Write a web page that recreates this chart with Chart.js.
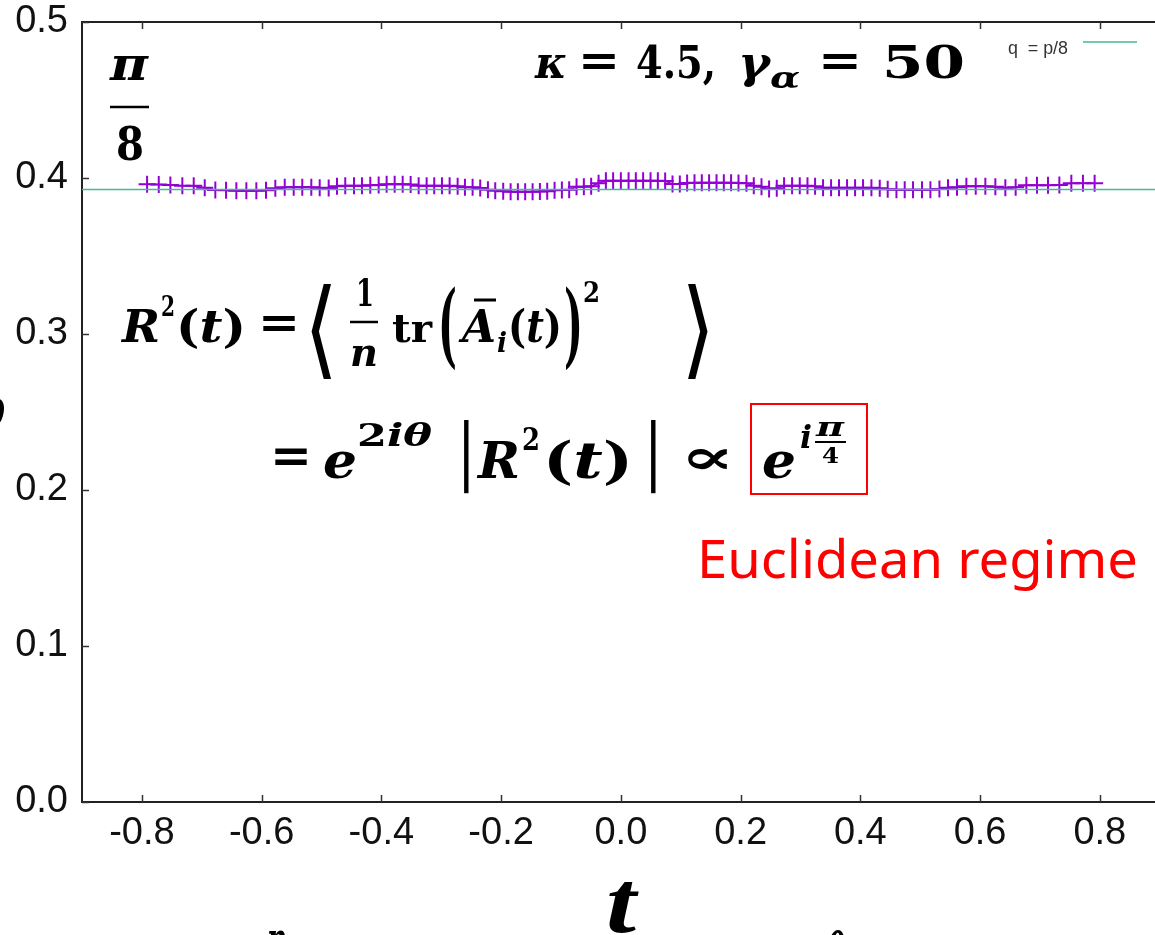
<!DOCTYPE html>
<html>
<head>
<meta charset="utf-8">
<script src="https://cdn.jsdelivr.net/npm/chart.js@4.4.1/dist/chart.umd.min.js"></script>
<style>
html,body{margin:0;padding:0;background:#fff;overflow:hidden;}
#c{display:block;}
</style>
</head>
<body>
<canvas id="c" width="1155" height="935"></canvas>
<script>
// ---- data ----
const tValues = [
-0.7913,-0.7718,-0.7524,-0.7324,-0.7134,-0.6950,-0.6773,-0.6594,-0.6422,-0.6255,
-0.6088,-0.5927,-0.5771,-0.5614,-0.5464,-0.5321,-0.5170,-0.5030,-0.4880,-0.4741,
-0.4603,-0.4457,-0.4324,-0.4185,-0.4045,-0.3912,-0.3778,-0.3644,-0.3511,-0.3377,
-0.3244,-0.3117,-0.2988,-0.2860,-0.2726,-0.2604,-0.2476,-0.2349,-0.2220,-0.2098,
-0.1965,-0.1841,-0.1720,-0.1598,-0.1474,-0.1352,-0.1230,-0.1107,-0.0985,-0.0863,
-0.0740,-0.0618,-0.0496,-0.0372,-0.0250,-0.0129,
0.0,
0.0129,0.0250,0.0372,0.0496,0.0618,0.0740,0.0863,0.0985,0.1107,0.1230,
0.1352,0.1474,0.1598,0.1720,0.1841,0.1965,0.2098,0.2220,0.2349,0.2476,
0.2604,0.2726,0.2860,0.2988,0.3117,0.3244,0.3377,0.3511,0.3644,0.3778,
0.3912,0.4045,0.4185,0.4324,0.4457,0.4603,0.4741,0.4880,0.5030,0.5170,
0.5321,0.5464,0.5614,0.5771,0.5927,0.6088,0.6255,0.6422,0.6594,0.6773,
0.6950,0.7134,0.7324,0.7524,0.7718,0.7913
];
const phaseValues = [
0.3960,0.3958,0.3955,0.3951,0.3951,0.3938,0.3923,0.3921,0.3919,0.3919,
0.3919,0.3921,0.3935,0.3940,0.3940,0.3940,0.3940,0.3938,0.3936,0.3947,
0.3951,0.3951,0.3951,0.3953,0.3955,0.3960,0.3960,0.3960,0.3958,0.3951,
0.3951,0.3951,0.3951,0.3951,0.3947,0.3940,0.3940,0.3936,0.3925,0.3919,
0.3915,0.3912,0.3912,0.3912,0.3912,0.3914,0.3915,0.3921,0.3923,0.3925,
0.3944,0.3944,0.3947,0.3966,0.3983,0.3983,
0.3983,
0.3983,0.3983,0.3983,0.3983,0.3983,0.3980,0.3962,0.3962,0.3968,0.3970,
0.3970,0.3970,0.3970,0.3970,0.3970,0.3968,0.3966,0.3950,0.3944,0.3929,
0.3935,0.3951,0.3951,0.3951,0.3951,0.3947,0.3938,0.3938,0.3938,0.3938,
0.3938,0.3938,0.3938,0.3935,0.3928,0.3925,0.3925,0.3925,0.3925,0.3925,
0.3930,0.3938,0.3940,0.3947,0.3947,0.3947,0.3944,0.3938,0.3940,0.3953,
0.3953,0.3953,0.3955,0.3966,0.3966,0.3966
];
const refLineX = [-0.9, 0.9];
const refLineY = [0.3927, 0.3927];   // q = pi/8
const refLabel = 'q  = p/8';
const xTicks = [-0.8,-0.6,-0.4,-0.2,0.0,0.2,0.4,0.6,0.8];
const yTicks = [0.0,0.1,0.2,0.3,0.4,0.5];

const PURPLE = '#9400d3';
const GREEN = '#45b89a';

const MI = (s)=>"italic bold "+s+"px 'DejaVu Serif'";
const MB = (s)=>"bold "+s+"px 'DejaVu Serif'";

// draw a run of text pieces starting at x; if targetW given, stretch horizontally to that width
function run(ctx, x, y, targetW, pieces, color){
  ctx.save();
  ctx.fillStyle = color || '#000';
  ctx.textAlign = 'left'; ctx.textBaseline = 'alphabetic';
  let total = 0;
  const ws = pieces.map(p=>{ ctx.font = p[1]; const w = ctx.measureText(p[0]).width; total += w; return w; });
  const sx = targetW ? targetW / total : 1;
  ctx.translate(x, y); ctx.scale(sx, 1);
  let cx = 0;
  pieces.forEach((p,i)=>{ ctx.font = p[1]; ctx.fillText(p[0], cx, p[2] || 0); cx += ws[i]; });
  ctx.restore();
}
function bigGlyph(ctx, s, x, w, yTop, yBot, font, color){
  ctx.save();
  ctx.font = font; ctx.fillStyle = color || '#000';
  ctx.textAlign = 'left'; ctx.textBaseline = 'alphabetic';
  const m = ctx.measureText(s);
  const asc = m.actualBoundingBoxAscent, desc = m.actualBoundingBoxDescent;
  const gw = m.actualBoundingBoxRight + m.actualBoundingBoxLeft;
  const sc = (yBot - yTop) / (asc + desc);
  const sx = w / gw;
  ctx.translate(x, yTop + asc * sc);
  ctx.scale(sx, sc);
  ctx.fillText(s, m.actualBoundingBoxLeft, 0);
  ctx.restore();
}
function hbar(ctx, x1, x2, y, w){
  ctx.save(); ctx.strokeStyle = '#000'; ctx.lineWidth = w;
  ctx.beginPath(); ctx.moveTo(x1, y); ctx.lineTo(x2, y); ctx.stroke(); ctx.restore();
}

const decorPlugin = {
  id: 'decor',
  afterDraw(chart){
    const ctx = chart.ctx, a = chart.chartArea;
    const xs = chart.scales.x, ys = chart.scales.y;
    ctx.save();
    // top border and extension of the bottom axis to the picture edge
    ctx.strokeStyle = '#222'; ctx.lineWidth = 2;
    ctx.beginPath(); ctx.moveTo(a.left, a.top); ctx.lineTo(chart.width, a.top);
    ctx.moveTo(a.right - 2, Math.round(a.bottom)); ctx.lineTo(chart.width, Math.round(a.bottom)); ctx.stroke();
    // inward ticks
    ctx.strokeStyle = '#333'; ctx.lineWidth = 1.5;
    xTicks.forEach(v=>{
      const px = Math.round(xs.getPixelForValue(v)) + 0.5;
      ctx.beginPath(); ctx.moveTo(px, a.bottom); ctx.lineTo(px, a.bottom - 7);
      ctx.moveTo(px, a.top); ctx.lineTo(px, a.top + 7); ctx.stroke();
    });
    yTicks.forEach(v=>{
      const py = Math.round(ys.getPixelForValue(v)) + 0.5;
      ctx.beginPath(); ctx.moveTo(a.left, py); ctx.lineTo(a.left + 7, py); ctx.stroke();
    });
    ctx.restore();

    // legend
    run(ctx, 1008, 54, 60, [[refLabel, "18px 'Liberation Sans'"]], '#333');
    ctx.save(); ctx.strokeStyle = GREEN; ctx.lineWidth = 1.5;
    ctx.beginPath(); ctx.moveTo(1083, 42); ctx.lineTo(1137, 42); ctx.stroke(); ctx.restore();

    // pi / 8
    run(ctx, 110, 80, 38, [['π', MI(46)]]);
    hbar(ctx, 110, 149, 107, 2.5);
    run(ctx, 116, 160, 28, [['8', MB(46)]]);

    // kappa, gamma
    const bk = 78;
    run(ctx, 535, bk, 32, [['κ', MI(44)]]);
    run(ctx, 578, bk - 2, 42, [['=', MB(44)]]);
    run(ctx, 636, bk, 80, [['4.5,', MB(44)]]);
    run(ctx, 738, bk, 32, [['γ', MI(44)]]);
    run(ctx, 770, 88, 30, [['α', MI(30)]]);
    run(ctx, 818, bk - 2, 44, [['=', MB(44)]]);
    run(ctx, 882, bk, 83, [['50', MB(44)]]);

    // formula line 1
    const b1 = 342;
    run(ctx, 122, b1, 38, [['R', MI(44)]]);
    run(ctx, 161, 316, 14, [['2', MB(28)]]);
    run(ctx, 176, b1, 70, [['(', MB(44)], ['t', MI(44)], [')', MB(44)]]);
    run(ctx, 258, b1 - 4, 42, [['=', MB(44)]]);
    bigGlyph(ctx, '⟨', 311, 22, 282, 380, "36px 'DejaVu Sans'");
    run(ctx, 356, 306, 18, [['1', MB(38)]]);
    hbar(ctx, 350, 378, 322, 2.5);
    run(ctx, 350, 366, 28, [['n', MI(40)]]);
    run(ctx, 392, b1, 40, [['tr', MB(40)]]);
    bigGlyph(ctx, '(', 441, 14, 288, 372, MB(40));
    run(ctx, 462, b1, 34, [['A', MI(44)]]);
    hbar(ctx, 474, 496, 300, 3);
    run(ctx, 497, 352, 10, [['i', MI(28)]]);
    run(ctx, 508, b1, 54, [['(', MB(44)], ['t', MI(44)], [')', MB(44)]]);
    bigGlyph(ctx, ')', 566, 14, 288, 372, MB(40));
    run(ctx, 583, 302, 17, [['2', MB(28)]]);
    bigGlyph(ctx, '⟩', 686, 22, 282, 380, "36px 'DejaVu Sans'");

    // formula line 2
    const b2 = 478;
    run(ctx, 270, b2 - 6, 42, [['=', MB(48)]]);
    run(ctx, 323, b2, 34, [['e', MI(50)]]);
    run(ctx, 357, 446, 75, [['2', MB(32)], ['iθ', MI(32)]]);
    bigGlyph(ctx, '|', 464, 5, 420, 496, "bold 40px 'DejaVu Sans'");
    run(ctx, 478, b2, 42, [['R', MI(50)]]);
    run(ctx, 522, 450, 18, [['2', MB(32)]]);
    run(ctx, 543, b2, 90, [['(', MB(50)], ['t', MI(50)], [')', MB(50)]]);
    bigGlyph(ctx, '|', 651, 5, 420, 496, "bold 40px 'DejaVu Sans'");
    run(ctx, 680, b2 - 4, 55, [['∝', "bold 50px 'DejaVu Serif'"]]);
    run(ctx, 762, b2, 34, [['e', MI(50)]]);
    run(ctx, 800, 448, 12, [['i', MI(32)]]);
    run(ctx, 816, 436, 28, [['π', MI(26)]]);
    hbar(ctx, 815, 846, 442, 2);
    run(ctx, 822, 463, 17, [['4', MB(22)]]);
    ctx.save(); ctx.strokeStyle = '#ff0000'; ctx.lineWidth = 2;
    ctx.strokeRect(751, 404, 116, 90); ctx.restore();

    // Euclidean regime
    run(ctx, 697, 578, 441, [['Euclidean regime', "53px 'Noto Sans'"]], '#ff0000');

    // axis title and cut-off fragments
    run(ctx, 606, 932, 30, [['t', "italic bold 88px 'Liberation Serif'"]]);
    run(ctx, 267, 955, 20, [['n', MI(46)]]);
    run(ctx, 827, 966, 18, [['θ', MI(46)]]);
    run(ctx, -20, 428, 25, [['θ', MI(40)]]);
  }
};

new Chart(document.getElementById('c'), {
  type: 'scatter',
  data: {
    datasets: [
      {
        label: refLabel,
        data: refLineX.map((x,i)=>({x, y: refLineY[i]})),
        showLine: true, borderColor: GREEN, borderWidth: 1.5,
        pointRadius: 0, order: 0, clip: false
      },
      {
        label: 'R2 phase',
        data: tValues.map((x,i)=>({x, y: phaseValues[i]})),
        showLine: true, borderColor: PURPLE, borderWidth: 1.5,
        pointStyle: 'cross', pointRadius: 8.5, pointBorderWidth: 2,
        pointBorderColor: PURPLE, order: 1
      }
    ]
  },
  options: {
    responsive: false, animation: false, devicePixelRatio: 1,
    layout: { padding: { top: 22, right: 0, left: 0, bottom: 0 } },
    plugins: { legend: { display: false }, tooltip: { enabled: false } },
    scales: {
      x: {
        type: 'linear', min: -0.9, max: 0.8746,
        afterBuildTicks: s => { s.ticks = xTicks.map(v=>({value: v})); },
        afterFit: s => { s.height = 133; s.paddingLeft = 0; s.paddingRight = 0; },
        grid: { display: true, drawOnChartArea: false, drawTicks: false, color: 'rgba(0,0,0,0)' },
        border: { display: true, color: '#222', width: 2 },
        ticks: { padding: 9, color: '#111', font: { family: 'Liberation Sans', size: 38 },
                 callback: v => Number(v).toFixed(1), maxRotation: 0, autoSkip: false }
      },
      y: {
        type: 'linear', min: 0, max: 0.5,
        afterBuildTicks: s => { s.ticks = yTicks.map(v=>({value: v})); },
        afterFit: s => { s.width = 82; s.paddingTop = 0; s.paddingBottom = 0; },
        grid: { display: true, drawOnChartArea: false, drawTicks: false, color: 'rgba(0,0,0,0)' },
        border: { display: true, color: '#222', width: 2 },
        ticks: { padding: 14, color: '#111', font: { family: 'Liberation Sans', size: 38 },
                 callback: v => Number(v).toFixed(1) }
      }
    }
  },
  plugins: [decorPlugin]
});
</script>
</body>
</html>
